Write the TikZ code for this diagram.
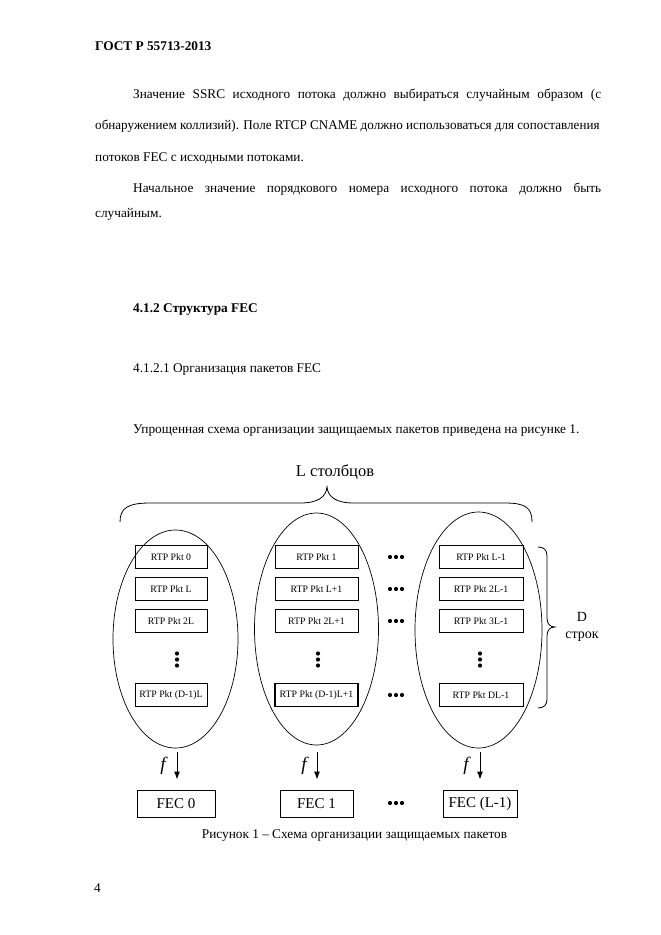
\documentclass[tikz,border=0pt]{standalone}
\usepackage{fontspec}
\setmainfont{Liberation Serif}
\usetikzlibrary{arrows.meta,shapes.geometric}
\begin{document}
\begin{tikzpicture}[x=1pt,y=-1pt,
  txt/.style={anchor=base west, inner sep=0, font=\fontsize{13.3}{16}\selectfont},
  btxt/.style={txt, font=\fontsize{13.3}{16}\selectfont\bfseries},
  pkt/.style={draw, line width=0.7pt, minimum height=23pt, inner sep=0, font=\fontsize{9.8}{11}\selectfont},
  oval/.style={draw, ellipse, line width=0.7pt, inner sep=0},
  fec/.style={draw, line width=0.9pt, minimum height=27pt, inner sep=0, font=\fontsize{15}{17}\selectfont},
  arr/.style={line width=1pt, -{Latex[length=8pt,width=6pt]}},
  dotc/.style={circle, fill, inner sep=0, minimum size=4.2pt},
  flab/.style={inner sep=0, font=\fontsize{19}{20}\selectfont\itshape},
  brace/.style={line width=0.8pt},
  lbl/.style={inner sep=0, font=\fontsize{14}{15}\selectfont},
]
\fill[white] (0,0) rectangle (661,935);
\useasboundingbox (0,0) rectangle (661,935);

% page text
\node[btxt] (hdr) at (95,50) {ГОСТ Р 55713-2013};
\node[txt] (p1) at (133,98.5) {\makebox[468pt][s]{Значение SSRC исходного потока должно выбираться случайным образом (с}};
\node[txt] (p2) at (95,129.5) {\makebox[506pt][s]{\scalebox{0.985}[1]{обнаружением коллизий). Поле RTCP CNAME должно использоваться для сопоставления}}};
\node[txt] (p3) at (95,161) {потоков FEC с исходными потоками.};
\node[txt] (p4) at (133,192) {\makebox[468pt][s]{Начальное значение порядкового номера исходного потока должно быть}};
\node[txt] (p5) at (95,217) {случайным.};
\node[btxt] (s1) at (133,312) {4.1.2 Структура FEC};
\node[txt] (s2) at (133,372) {4.1.2.1 Организация пакетов FEC};
\node[txt] (s3) at (133,433) {Упрощенная схема организации защищаемых пакетов приведена на рисунке 1.};

% top label and brace
\node[lbl, anchor=base, font=\fontsize{16.5}{18}\selectfont] (lcols) at (335,476) {L столбцов};
\draw[brace] (120,522) .. controls (120,508) and (128,503) .. (150,503) -- (300,503)
  .. controls (318,503) and (326,497) .. (327,487)
  .. controls (328,497) and (336,503) .. (354,503) -- (505,503)
  .. controls (526,503) and (532,508) .. (532,522);

% ellipses
\node[oval, minimum width=125pt, minimum height=218pt] (e1) at (175.5,639) {};
\node[oval, minimum width=124pt, minimum height=232pt] (e2) at (316.5,629) {};
\node[oval, minimum width=127pt, minimum height=236pt] (e3) at (478.5,630) {};

% packet boxes
\node[pkt, minimum width=72pt] (a1) at (171,557) {RTP Pkt 0};
\node[pkt, minimum width=72pt] (a2) at (171,589) {RTP Pkt L};
\node[pkt, minimum width=72pt] (a3) at (171,621) {RTP Pkt 2L};
\node[pkt, minimum width=72pt] (a4) at (171,695) {RTP Pkt (D-1)L};
\node[pkt, minimum width=83pt] (b1) at (316.5,557) {RTP Pkt 1};
\node[pkt, minimum width=83pt] (b2) at (316.5,589) {RTP Pkt L+1};
\node[pkt, minimum width=83pt] (b3) at (316.5,621) {RTP Pkt 2L+1};
\node[pkt, minimum width=83pt, line width=1.3pt] (b4) at (316.5,695) {RTP Pkt (D-1)L+1};
\node[pkt, minimum width=84pt] (c1) at (481,557) {RTP Pkt L-1};
\node[pkt, minimum width=84pt] (c2) at (481,589) {RTP Pkt 2L-1};
\node[pkt, minimum width=84pt] (c3) at (481,621) {RTP Pkt 3L-1};
\node[pkt, minimum width=84pt] (c4) at (481,695) {RTP Pkt DL-1};

% vertical dots
\foreach \x/\n in {177/va,318/vb,480/vc}{
  \foreach \y/\k in {653.5/1,659.5/2,665.5/3}{
    \node[dotc] (\n\k) at (\x,\y) {};
  }
}
% horizontal dots
\foreach \y/\n in {557/h1,589/h2,621/h3,695/h4,803/h5}{
  \foreach \x/\k in {390/1,396/2,402/3}{
    \node[dotc] (\n\k) at (\x,\y) {};
  }
}

% right brace
\draw[brace] (538,547) .. controls (544,547) and (547,550) .. (547,556) -- (547,618)
  .. controls (547,624) and (550,627) .. (555,627)
  .. controls (550,627) and (547,630) .. (547,636) -- (547,699)
  .. controls (547,705) and (544,708) .. (538,708);
\node[lbl, anchor=base] (dl) at (582,621) {D};
\node[lbl, anchor=base] (dl2) at (582,638) {строк};

% FEC boxes
\node[fec, minimum width=78pt] (f1) at (176,803.5) {FEC 0};
\node[fec, minimum width=73pt] (f2) at (316.5,803.5) {FEC 1};
\node[fec, minimum width=74pt] (f3) at (480,803.5) {FEC (L-1)};

% arrows
\draw[arr] ([xshift=1.5pt,yshift=-4pt]e1.south) -- ([xshift=1.5pt,yshift=10pt]e1.south |- f1.north);
\draw[arr] ([xshift=0.5pt,yshift=-7pt]e2.south) -- ([xshift=0.5pt,yshift=10pt]e2.south |- f2.north);
\draw[arr] ([xshift=1.5pt,yshift=-4pt]e3.south) -- ([xshift=1.5pt,yshift=10pt]e3.south |- f3.north);
\node[flab] (fl1) at (163,766) {f};
\node[flab] (fl2) at (304,766) {f};
\node[flab] (fl3) at (466,766) {f};

% caption and page number
\node[txt, anchor=base] (cap) at (354.5,838) {Рисунок 1 – Схема организации защищаемых пакетов};
\node[txt] (pg) at (94,892) {4};
\end{tikzpicture}
\end{document}
